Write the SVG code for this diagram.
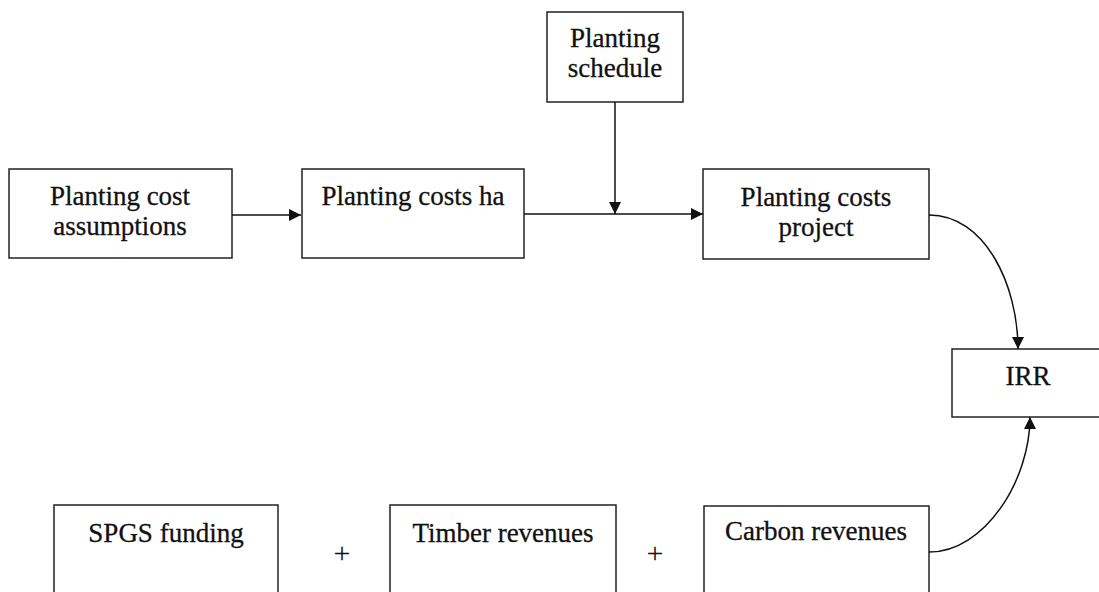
<svg xmlns="http://www.w3.org/2000/svg" width="1099" height="592" viewBox="0 0 1099 592">
<style>
.box{fill:#fff;stroke:#222;stroke-width:1.5}
.t{font-family:"Liberation Serif","Times New Roman",serif;font-size:27px;fill:#111;stroke:#111;stroke-width:0.3;text-anchor:middle}
.p{font-family:"Liberation Serif","Times New Roman",serif;font-size:30px;fill:#111;text-anchor:middle}
.c{fill:none;stroke:#111;stroke-width:1.5}
</style>
<defs>
<marker id="ah" viewBox="0 0 10 10" refX="10" refY="5" markerWidth="14" markerHeight="12" markerUnits="userSpaceOnUse" orient="auto">
<path d="M0,0 L10,5 L0,10 Z" fill="#111"/>
</marker>
</defs>
<rect width="1099" height="592" fill="#fff"/>
<g id="n-assumptions">
<rect class="box" x="9" y="169" width="223" height="89"/>
<text class="t" x="120" y="205">Planting cost</text>
<text class="t" x="120" y="235">assumptions</text>
</g>
<g id="n-costs-ha">
<rect class="box" x="302" y="169" width="222" height="89"/>
<text class="t" x="413" y="205">Planting costs ha</text>
</g>
<g id="n-schedule">
<rect class="box" x="547" y="12" width="136" height="90"/>
<text class="t" x="615" y="47">Planting</text>
<text class="t" x="615" y="77">schedule</text>
</g>
<g id="n-costs-project">
<rect class="box" x="703" y="169" width="226" height="90"/>
<text class="t" x="816" y="206">Planting costs</text>
<text class="t" x="816" y="236">project</text>
</g>
<g id="n-irr">
<rect class="box" x="952" y="349" width="160" height="68"/>
<text class="t" x="1028" y="385">IRR</text>
</g>
<g id="n-spgs">
<rect class="box" x="54" y="505" width="224" height="100"/>
<text class="t" x="166" y="542">SPGS funding</text>
</g>
<g id="n-timber">
<rect class="box" x="390" y="505" width="226" height="100"/>
<text class="t" x="503" y="542">Timber revenues</text>
</g>
<g id="n-carbon">
<rect class="box" x="704" y="506" width="225" height="100"/>
<text class="t" x="816" y="540">Carbon revenues</text>
</g>
<g id="plus">
<text class="p" x="342" y="563">+</text>
<text class="p" x="655" y="563">+</text>
</g>
<g id="connectors">
<path class="c" d="M232,215 L301,215" marker-end="url(#ah)"/>
<path class="c" d="M524,214 L703,214" marker-end="url(#ah)"/>
<path class="c" d="M615,102 L615,214" marker-end="url(#ah)"/>
<path class="c" d="M929,215 C985,215 1018,285 1018,349" marker-end="url(#ah)"/>
<path class="c" d="M929,552 C985,552 1030,480 1030,417" marker-end="url(#ah)"/>
</g>
</svg>
